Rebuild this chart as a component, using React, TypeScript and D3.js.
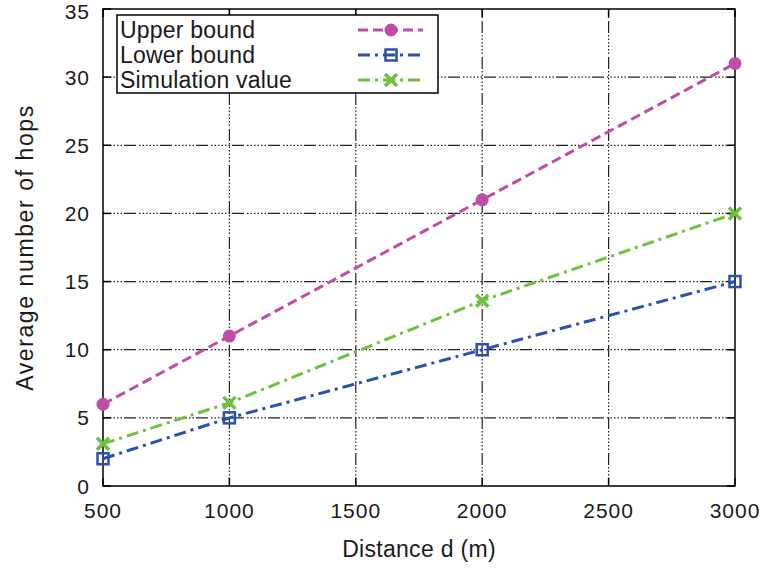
import React from "react";
import * as d3 from "d3";

const distances = [500, 1000, 2000, 3000];
const upperBound = [6, 11, 21, 31];
const lowerBound = [2, 5, 10, 15];
const simulation = [3.1, 6.1, 13.6, 20];
const xTicks = [500, 1000, 1500, 2000, 2500, 3000];
const yTicks = [0, 5, 10, 15, 20, 25, 30, 35];
const seriesNames = ["Upper bound", "Lower bound", "Simulation value"];

const W = 766, H = 572;
const M = { left: 103, right: 31, top: 9, bottom: 86 };
const FONT = "'Liberation Sans', Arial, sans-serif";

export default function App() {
  const x = d3.scaleLinear().domain([500, 3000]).range([M.left, W - M.right]);
  const y = d3.scaleLinear().domain([0, 35]).range([H - M.bottom, M.top]);
  const line = d3.line<[number, number]>().x(d => x(d[0])).y(d => y(d[1]));
  const series = [
    { name: seriesNames[0], vals: upperBound, color: "#c04ca6", dash: "10 5", marker: "circle" },
    { name: seriesNames[1], vals: lowerBound, color: "#2a52ac", dash: "12 5 3 5", marker: "square" },
    { name: seriesNames[2], vals: simulation, color: "#6cc23e", dash: "12 5 3 5", marker: "x" },
  ];
  const gridDash = "1.5 2 1.5 2 1.5 2 1.5 2 1.5 2 1.5 2 12 3";
  const x0 = x(500), x1 = x(3000), y0 = y(0), y1 = y(35);

  const marker = (type: string, cx: number, cy: number, color: string, key: string) => {
    if (type === "circle") return <circle key={key} cx={cx} cy={cy} r={6.5} fill={color} />;
    if (type === "square")
      return <rect key={key} x={cx - 5.5} y={cy - 5.5} width={11} height={11} fill="none" stroke={color} strokeWidth={2.5} />;
    return (
      <path key={key} d={`M${cx - 6},${cy - 6}L${cx + 6},${cy + 6}M${cx - 6},${cy + 6}L${cx + 6},${cy - 6}`} stroke={color} strokeWidth={3.5} />
    );
  };

  const legX = 117, legY = 15, legW = 321, legH = 78;
  const rowY = [30, 55, 80];
  const textFill = "#1a1a1a";

  return (
    <svg width={W} height={H} style={{ position: "absolute", left: 0, top: 0, background: "#fff" }} fontFamily={FONT}>
      <rect width={W} height={H} fill="#fff" />
      {/* grid */}
      {xTicks.slice(1, -1).map(t => (
        <line key={"gx" + t} x1={x(t)} x2={x(t)} y1={y0} y2={y1} stroke="#222" strokeWidth={1.2} strokeDasharray={gridDash} />
      ))}
      {yTicks.slice(1, -1).map(t => (
        <line key={"gy" + t} x1={x0} x2={x1} y1={y(t)} y2={y(t)} stroke="#222" strokeWidth={1.2} strokeDasharray={gridDash} />
      ))}
      {/* ticks */}
      {xTicks.map(t => (
        <g key={"tx" + t}>
          <line x1={x(t)} x2={x(t)} y1={y0} y2={y0 - 8} stroke="#000" strokeWidth={1.5} />
          <line x1={x(t)} x2={x(t)} y1={y1} y2={y1 + 8} stroke="#000" strokeWidth={1.5} />
          <text x={x(t)} y={y0 + 32} textAnchor="middle" fontSize={21} letterSpacing={1} fill={textFill}>{t}</text>
        </g>
      ))}
      {yTicks.map(t => (
        <g key={"ty" + t}>
          <line x1={x0} x2={x0 + 8} y1={y(t)} y2={y(t)} stroke="#000" strokeWidth={1.5} />
          <line x1={x1} x2={x1 - 8} y1={y(t)} y2={y(t)} stroke="#000" strokeWidth={1.5} />
          <text x={x0 - 13} y={Math.max(y(t) + 7.5, 19)} textAnchor="end" fontSize={21} letterSpacing={1} fill={textFill}>{t}</text>
        </g>
      ))}
      <rect x={x0} y={y1} width={x1 - x0} height={y0 - y1} fill="none" stroke="#000" strokeWidth={1.5} />
      {/* series */}
      {series.map(s => (
        <g key={s.name}>
          <path d={line(distances.map((d, i) => [d, s.vals[i]]))!} fill="none" stroke={s.color} strokeWidth={3} strokeDasharray={s.dash} />
          {distances.map((d, i) => marker(s.marker, x(d), y(s.vals[i]), s.color, s.name + i))}
        </g>
      ))}
      {/* legend */}
      <rect x={legX} y={legY} width={legW} height={legH} fill="#fff" stroke="#000" strokeWidth={1.5} />
      {series.map((s, i) => (
        <g key={"leg" + i}>
          <text x={legX + 3} y={rowY[i] + 8} fontSize={23} letterSpacing={0.2} fill={textFill}>{s.name}</text>
          <line x1={358} x2={423} y1={rowY[i]} y2={rowY[i]} stroke={s.color} strokeWidth={3} strokeDasharray={s.dash} />
          {marker(s.marker, 391, rowY[i], s.color, "lm" + i)}
        </g>
      ))}
      {/* axis labels */}
      <text x={(x0 + x1) / 2} y={557} textAnchor="middle" fontSize={23} letterSpacing={0.3} fill={textFill}>Distance d (m)</text>
      <text transform={`translate(33,${(y0 + y1) / 2}) rotate(-90)`} textAnchor="middle" fontSize={23} letterSpacing={1.6} fill={textFill}>Average number of hops</text>
    </svg>
  );
}
